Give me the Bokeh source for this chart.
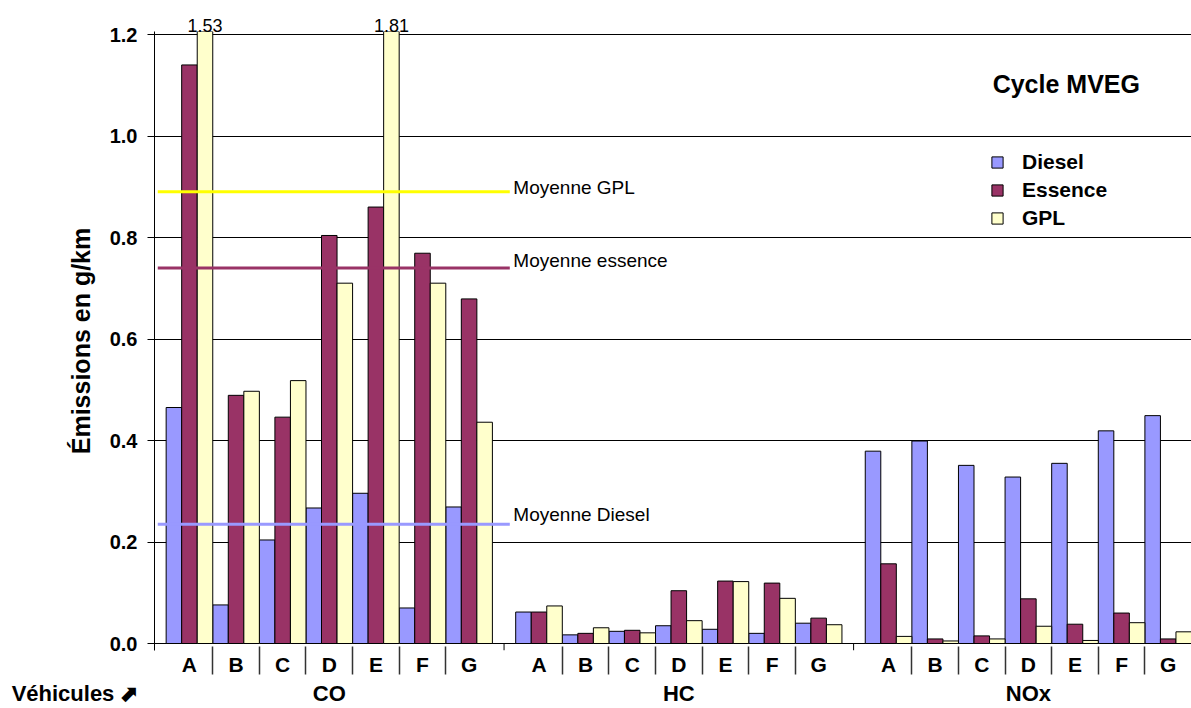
from bokeh.plotting import figure
from bokeh.models import (Range1d, FixedTicker, NumeralTickFormatter, Label,
                          Legend, LegendItem, ColumnDataSource, LinearAxis)
from bokeh.embed import file_html
from bokeh.resources import INLINE

# ---------------- data ----------------
pollutants = ["CO", "HC", "NOx"]
vehicles = ["A", "B", "C", "D", "E", "F", "G"]
fuels = ["Diesel", "Essence", "GPL"]

co_diesel = [0.465, 0.076, 0.204, 0.267, 0.296, 0.070, 0.269]
co_essence = [1.140, 0.489, 0.446, 0.804, 0.860, 0.769, 0.679]
co_gpl = [1.53, 0.497, 0.518, 0.710, 1.81, 0.710, 0.436]

hc_diesel = [0.062, 0.017, 0.024, 0.035, 0.028, 0.020, 0.040]
hc_essence = [0.062, 0.020, 0.026, 0.104, 0.123, 0.119, 0.050]
hc_gpl = [0.074, 0.031, 0.021, 0.045, 0.122, 0.089, 0.037]

nox_diesel = [0.379, 0.399, 0.351, 0.328, 0.355, 0.419, 0.449]
nox_essence = [0.157, 0.009, 0.015, 0.088, 0.038, 0.060, 0.009]
nox_gpl = [0.014, 0.005, 0.009, 0.034, 0.006, 0.041, 0.023]

mean_diesel = 0.235
mean_essence = 0.74
mean_gpl = 0.89

y_ticks = [0.0, 0.2, 0.4, 0.6, 0.8, 1.0, 1.2]
x_title = "Véhicules ⬈"
chart_title = "Cycle MVEG"

# ---------------- style ----------------
FONT = "Liberation Sans"
C_DIESEL, C_ESSENCE, C_GPL = "#9999FF", "#993366", "#FFFFCC"
C_MEAN_GPL = "#FFFF00"
fuel_colors = [C_DIESEL, C_ESSENCE, C_GPL]

STRIDE = 22.5          # 21 bars + gap between pollutant groups
X_START, X_END = -0.75, 66.0
Y_MAX = 1.2
PX_PER_Y = 507.5
Y_START = -7 / PX_PER_Y     # room for the short group ticks below 0
Y_END = Y_MAX + 3 / PX_PER_Y


def key(t):
    return int(t) if float(t).is_integer() else t


series = {
    "CO": [co_diesel, co_essence, co_gpl],
    "HC": [hc_diesel, hc_essence, hc_gpl],
    "NOx": [nox_diesel, nox_essence, nox_gpl],
}

p = figure(width=1191, height=708,
           x_range=Range1d(X_START, X_END), y_range=Range1d(Y_START, Y_END),
           output_backend="svg", toolbar_location=None,
           min_border_left=154, min_border_right=0,
           min_border_top=31, min_border_bottom=58)
p.outline_line_color = None
p.background_fill_color = "white"
p.border_fill_color = "white"

# ---------------- grid (the 0 line is the category axis line) ----------------
p.xgrid.visible = False
p.ygrid.ticker = FixedTicker(ticks=y_ticks)
p.ygrid.grid_line_color = "black"
p.ygrid.grid_line_width = 1

# ---------------- bars ----------------
legend_proxies = []
for k, (fuel, col) in enumerate(zip(fuels, fuel_colors)):
    xs, tops = [], []
    for g, pol in enumerate(pollutants):
        for i, v in enumerate(series[pol][k]):
            xs.append(g * STRIDE + 3 * i + k + 0.5)
            tops.append(v)
    src = ColumnDataSource(dict(x=xs, top=tops))
    p.vbar(x="x", top="top", width=1.0, bottom=0, source=src,
           fill_color=col, line_color="black", line_width=1)
    proxy = p.scatter(x="x", y="top", source=src, marker="square",
                      fill_color=col, line_color="black", line_width=1)
    proxy.visible = False
    legend_proxies.append(proxy)

# ---------------- mean lines ----------------
for val, col, lab, ly in [(mean_gpl, C_MEAN_GPL, "Moyenne GPL", 0.898),
                          (mean_essence, C_ESSENCE, "Moyenne essence", 0.755),
                          (mean_diesel, C_DIESEL, "Moyenne Diesel", 0.254)]:
    p.line(x=[-0.54, 22.12], y=[val, val], line_color=col, line_width=3)
    p.add_layout(Label(x=22.35, y=ly, text=lab, text_align="left",
                       text_baseline="alphabetic", text_font=FONT,
                       text_font_size="19px", text_color="black"))

# short ticks between pollutant groups, just under the 0 line
bounds = [X_START + g * STRIDE for g in range(1, 3)]
p.segment(x0=bounds, y0=[0] * len(bounds), x1=bounds, y1=[Y_START] * len(bounds),
          line_color="black", line_width=1)

# ---------------- y axis ----------------
yax = p.yaxis[0]
yax.ticker = FixedTicker(ticks=y_ticks)
yax.formatter = NumeralTickFormatter(format="0.0")
yax.major_tick_out = 7
yax.major_tick_in = 0
yax.minor_tick_out = 0
yax.minor_tick_in = 0
yax.axis_line_color = "black"
yax.major_tick_line_color = "black"
yax.major_label_standoff = 10
yax.major_label_text_font = FONT
yax.major_label_text_font_style = "bold"
yax.major_label_text_font_size = "20px"
yax.major_label_text_color = "black"
yax.axis_label = "Émissions en g/km"
yax.axis_label_text_font = FONT
yax.axis_label_text_font_style = "bold"
yax.axis_label_text_font_size = "25px"
yax.axis_label_text_color = "black"
yax.axis_label_standoff = 12

# ---------------- x axis 1: vehicle letters + separators ----------------
centers = [g * STRIDE + 3 * i + 1.5 for g in range(3) for i in range(7)]
separators = [g * STRIDE + 3 * i for g in range(3) for i in range(1, 7)]
xax = p.xaxis[0]
xax.ticker = FixedTicker(ticks=centers, minor_ticks=separators)
xax.major_label_overrides = {key(c): vehicles[n % 7] for n, c in enumerate(centers)}
xax.axis_line_color = None
xax.major_tick_line_color = None
xax.major_tick_out = 0
xax.major_tick_in = 0
xax.minor_tick_in = 4
xax.minor_tick_out = 24
xax.minor_tick_line_color = "#333333"
xax.minor_tick_line_width = 1.5
xax.major_label_standoff = -22
xax.major_label_text_font = FONT
xax.major_label_text_font_style = "bold"
xax.major_label_text_font_size = "21px"
xax.major_label_text_color = "black"

# ---------------- x axis 2: pollutant groups + axis title ----------------
group_centers = [g * STRIDE + 10.5 for g in range(3)]
veh_x = X_START + 0.001
overrides = {key(c): pol for c, pol in zip(group_centers, pollutants)}
overrides[veh_x] = x_title + "\u00a0" * 26
gax = LinearAxis(ticker=FixedTicker(ticks=[veh_x] + group_centers, minor_ticks=[]),
                 major_label_overrides=overrides,
                 axis_line_color=None, major_tick_line_color=None,
                 minor_tick_line_color=None, major_tick_out=0, major_tick_in=0,
                 minor_tick_out=0, minor_tick_in=0, major_label_standoff=2,
                 major_label_text_font=FONT, major_label_text_font_style="bold",
                 major_label_text_font_size="22px", major_label_text_color="black")
p.add_layout(gax, "below")

# ---------------- values above the axis ----------------
over_x, over_lab = [], []
for k in range(3):
    for g, pol in enumerate(pollutants):
        for i, v in enumerate(series[pol][k]):
            if v > Y_MAX:
                over_x.append(g * STRIDE + 3 * i + k + 0.5)
                over_lab.append(f"{v:.2f}")
tax = LinearAxis(ticker=FixedTicker(ticks=over_x, minor_ticks=[]),
                 major_label_overrides={key(x): s for x, s in zip(over_x, over_lab)},
                 axis_line_color=None, major_tick_line_color=None,
                 minor_tick_line_color=None, major_tick_out=0, major_tick_in=0,
                 minor_tick_out=0, minor_tick_in=0, major_label_standoff=0,
                 major_label_text_font=FONT, major_label_text_font_size="18px",
                 major_label_text_color="black")
p.add_layout(tax, "above")

# ---------------- title inside the frame ----------------
p.add_layout(Label(x=53.2, y=1.1015, text=chart_title, text_align="left",
                   text_baseline="alphabetic", text_font=FONT, text_font_style="bold",
                   text_font_size="25px", text_color="black"))

# ---------------- legend ----------------
items = [LegendItem(label=f, renderers=[r]) for f, r in zip(fuels, legend_proxies)]
legend = Legend(items=items, location=(827, 418),
                glyph_width=32, glyph_height=28, label_height=28, spacing=0,
                label_standoff=9, padding=0, margin=0,
                border_line_color=None, background_fill_alpha=0,
                label_text_font=FONT, label_text_font_style="bold",
                label_text_font_size="21px", label_text_color="black")
p.add_layout(legend)

open("out.html", "w").write(file_html(p, INLINE))
